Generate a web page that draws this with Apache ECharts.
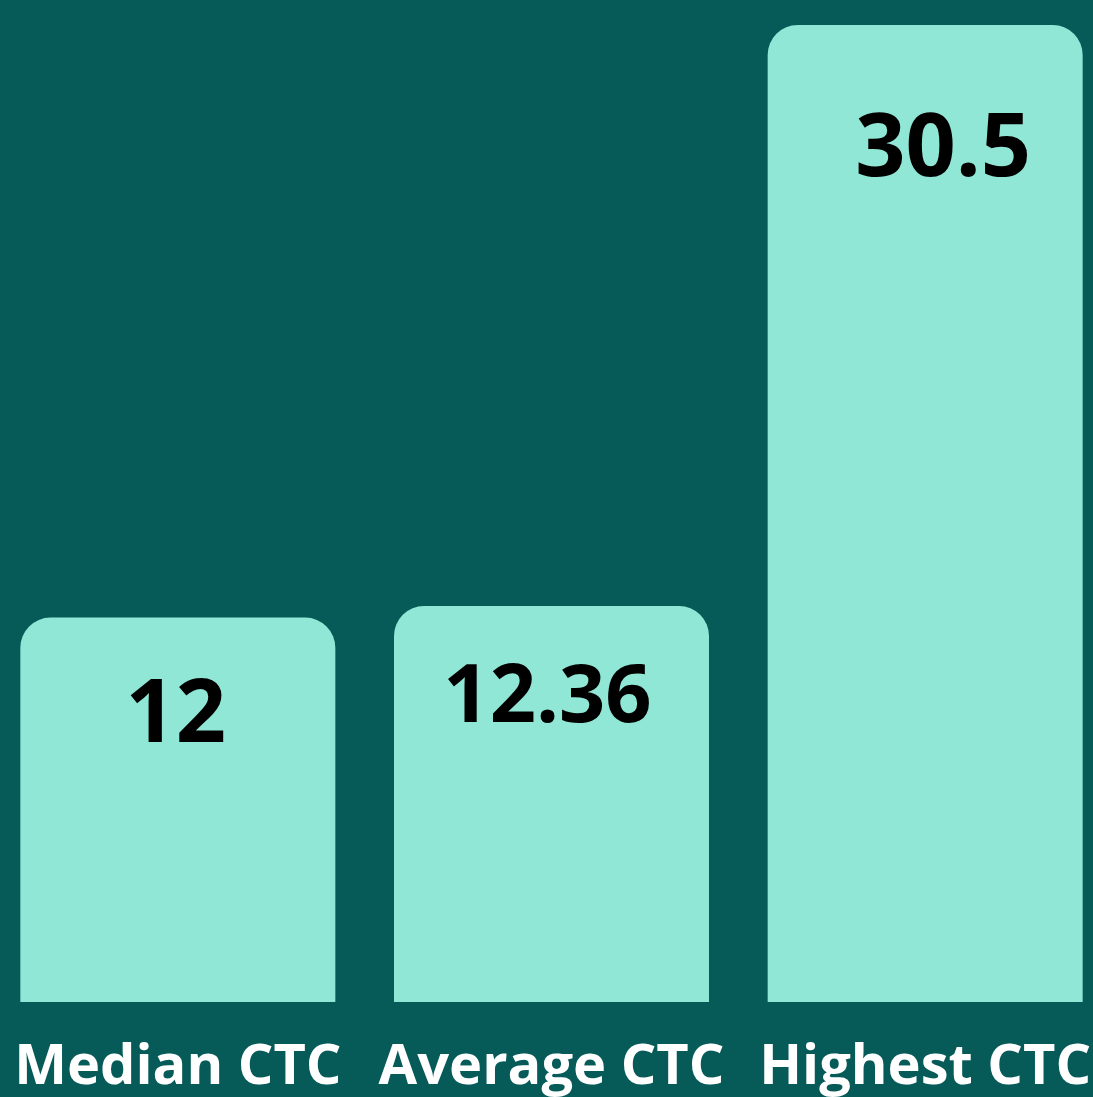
<!DOCTYPE html>
<html>
<head>
<meta charset="utf-8">
<script src="https://cdn.jsdelivr.net/npm/echarts@6/dist/echarts.min.js"></script>
<style>
  html, body { margin: 0; padding: 0; background: #065b59; overflow: hidden; }
  #ctcChart { width: 1121px; height: 1097px; margin-left: -9px; }
</style>
</head>
<body>
<div id="ctcChart"></div>
<script>
// categories and values
const categories = ['Median CTC', 'Average CTC', 'Highest CTC'];
const ctcValues = [12, 12.36, 30.5];
const valueLabels = ['12', '12.36', '30.5'];
// label offsets inside each bar (x, y) and font sizes
const labelOffsets = [[-2, 99], [-4, 93], [18, 126]];
const labelSizes = [88, 81, 88];

let myChart = echarts.init(document.getElementById('ctcChart'));
let option = {
  backgroundColor: '#065b59',
  animation: false,
  grid: {
    left: 0,
    right: 0,
    top: 25,
    bottom: 95,
    containLabel: false
  },
  xAxis: {
    type: 'category',
    data: categories,
    axisLine: { show: false },
    axisTick: { show: false },
    axisLabel: {
      color: '#ffffff',
      fontFamily: 'Open Sans',
      fontWeight: 'bold',
      fontSize: 56,
      margin: 38,
      interval: 0
    }
  },
  yAxis: {
    type: 'value',
    min: 0,
    max: 30.5,
    show: false,
    splitLine: { show: false }
  },
  series: [
    {
      type: 'bar',
      barWidth: 315,
      data: ctcValues.map((v, i) => ({
        value: v,
        label: {
          show: true,
          position: ['50%', 0],
          offset: labelOffsets[i],
          align: 'center',
          verticalAlign: 'middle',
          fontSize: labelSizes[i],
          formatter: valueLabels[i]
        }
      })),
      itemStyle: {
        color: '#91e7d6',
        borderRadius: [30, 30, 0, 0]
      },
      label: {
        color: '#000000',
        fontFamily: 'Open Sans',
        fontWeight: 'bold'
      }
    }
  ]
};
myChart.setOption(option);
</script>
</body>
</html>
